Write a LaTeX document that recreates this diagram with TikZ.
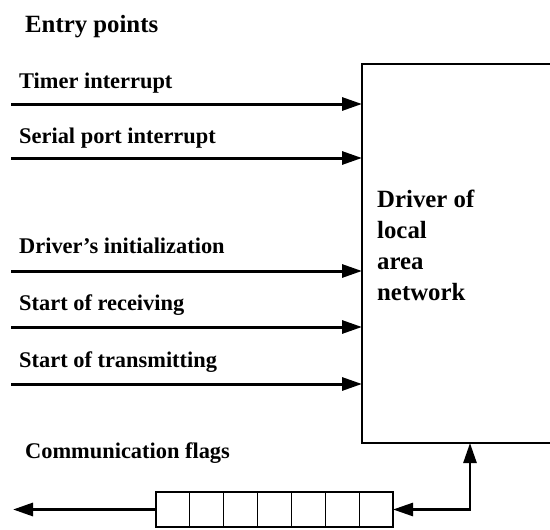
\documentclass[tikz,border=0pt]{standalone}
\usepackage{fontspec}
\setmainfont{Liberation Serif}
\usetikzlibrary{arrows.meta,positioning}

\begin{document}
\begin{tikzpicture}[x=1pt,y=-1pt]
\tikzstyle{lbl}=[inner sep=0, anchor=base west, font=\fontsize{22.4}{26}\selectfont\bfseries]
\tikzstyle{drvline}=[inner sep=0, anchor=base west, font=\fontsize{24.8}{28}\selectfont\bfseries]
\tikzstyle{box}=[rectangle, draw=black, line width=1.8pt, anchor=north west, inner sep=0, outer sep=0]
\tikzstyle{connect}=[-{Triangle[length=20pt,width=13pt]}, line width=3pt]
\tikzstyle{both}=[{Triangle[length=20pt,width=13pt]}-{Triangle[length=20pt,width=13pt]}, line width=2.6pt]
\useasboundingbox (0,0) rectangle (550,530);
\clip (0,0) rectangle (550,530);
  \node[drvline] (entry) at (25,32) {Entry points};
  \node[box, minimum width=250, minimum height=379] (drv) at (362,64) {};
  \node[drvline] (d1) at (377,207) {Driver of};
  \node[drvline] (d2) at (377,238) {local};
  \node[drvline] (d3) at (377,269) {area};
  \node[drvline] (d4) at (377,300) {network};
% entry arrows
  \node[lbl] (ltimer) at (19,88) {Timer interrupt};
  \coordinate (stimer) at (11,104);
  \node[lbl] (lserial) at (19,143) {Serial port interrupt};
  \coordinate (sserial) at (11,158);
  \node[lbl] (linit) at (19,253) {Driver’s initialization};
  \coordinate (sinit) at (11,271);
  \node[lbl] (lrecv) at (19,310) {Start of receiving};
  \coordinate (srecv) at (11,327);
  \node[lbl] (ltrans) at (19,367) {Start of transmitting};
  \coordinate (strans) at (11,384);
  \foreach \s in {stimer,sserial,sinit,srecv,strans}
    \draw[connect] (\s) -- (\s -| drv.west);
% flags
  \node[lbl] (lflags) at (25,458) {Communication flags};
  \node[box, line width=1.5pt, minimum width=237, minimum height=35] (flags) at (156,492) {};
  \foreach \i in {1,...,6}
    \draw[line width=0.8pt] ([xshift={\i*33.86pt}]flags.north west) -- ([xshift={\i*33.86pt}]flags.south west);
  \coordinate (fout) at (13,509.5);
  \coordinate (bend) at (470,509.5);
  \draw[connect] (flags.west) -- (fout);
  \draw[both] (flags.east) -- (bend) -- (bend |- drv.south);
\end{tikzpicture}
\end{document}
